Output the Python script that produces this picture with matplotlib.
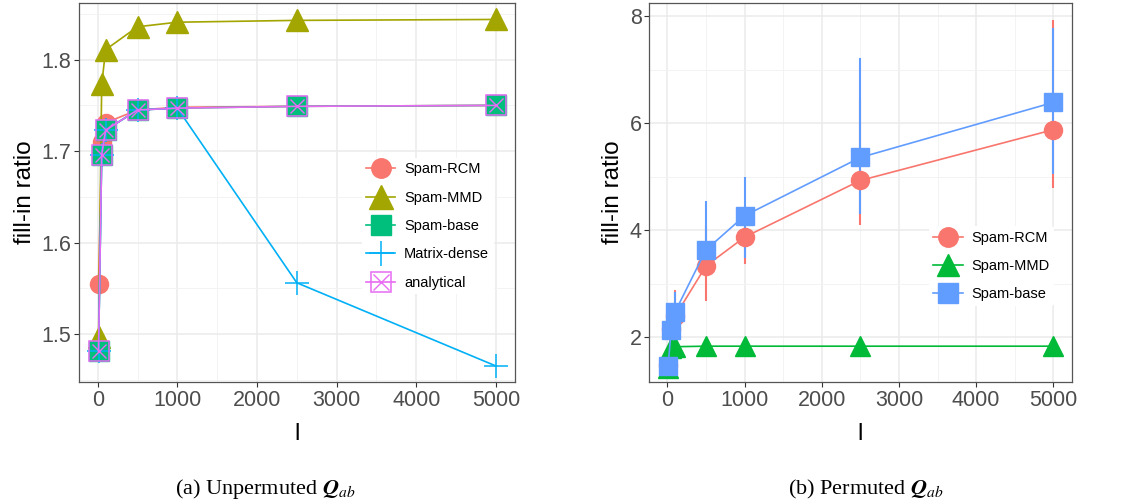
import numpy as np
import matplotlib.pyplot as plt
from matplotlib.lines import Line2D
from matplotlib.ticker import MultipleLocator

plt.rcParams['font.family'] = ['Liberation Sans', 'DejaVu Sans']
plt.rcParams['mathtext.fontset'] = 'stix'

l_vals = [10, 50, 100, 500, 1000, 2500, 5000]

# (a) unpermuted Q_ab
a_rcm = [1.555, 1.710, 1.731, 1.745, 1.748, 1.749, 1.750]
a_mmd = [1.497, 1.773, 1.811, 1.836, 1.841, 1.843, 1.844]
a_base = [1.481, 1.696, 1.723, 1.745, 1.747, 1.749, 1.750]
a_dense = [1.481, 1.696, 1.723, 1.745, 1.747, 1.556, 1.465]
a_analytical = [1.481, 1.696, 1.723, 1.745, 1.747, 1.749, 1.750]

# (b) permuted Q_ab (mean, error bar low / high)
b_rcm = [1.48, 2.15, 2.39, 3.33, 3.87, 4.93, 5.88]
b_rcm_lo = [1.45, 2.00, 2.10, 2.67, 3.36, 4.09, 4.79]
b_rcm_hi = [1.52, 2.35, 2.89, 4.10, 4.45, 6.45, 7.93]
b_mmd = [1.42, 1.80, 1.82, 1.83, 1.83, 1.83, 1.83]
b_base = [1.46, 2.14, 2.47, 3.63, 4.27, 5.36, 6.39]
b_base_lo = [1.43, 1.95, 2.20, 3.20, 3.48, 4.30, 5.05]
b_base_hi = [1.50, 2.35, 2.85, 4.54, 5.00, 7.22, 7.78]

C_RCM, C_MMD, C_BASE, C_DENSE, C_ANA = "#F8766D", "#A3A500", "#00BF7D", "#00B0F6", "#E76BF3"
C3_RCM, C3_MMD, C3_BASE = "#F8766D", "#00BA38", "#619CFF"


def style_axes(ax, major_y, minor_y):
    ax.set_facecolor("white")
    ax.xaxis.set_major_locator(MultipleLocator(1000))
    ax.xaxis.set_minor_locator(MultipleLocator(500))
    ax.yaxis.set_major_locator(MultipleLocator(major_y))
    ax.yaxis.set_minor_locator(MultipleLocator(minor_y))
    ax.grid(True, which="major", color="#EBEBEB", linewidth=1.1, zorder=0)
    ax.grid(True, which="minor", color="#F3F3F3", linewidth=0.7, zorder=0)
    ax.set_axisbelow(True)
    ax.tick_params(which="major", length=3.5, width=0.8, color="#333333",
                   labelsize=15.5, labelcolor="#4D4D4D", pad=2)
    ax.tick_params(which="minor", length=0)
    for sp in ax.spines.values():
        sp.set_color("#555555")
        sp.set_linewidth(0.9)
    ax.set_xlabel("l", fontsize=17.5, labelpad=9)
    ax.set_ylabel("fill-in ratio", fontsize=17.5, labelpad=4)


fig = plt.figure(figsize=(11.4, 5), dpi=100)
ax1 = fig.add_axes([0.0693, 0.236, 0.3825, 0.758])
ax2 = fig.add_axes([0.5696, 0.236, 0.3705, 0.758])

# ---- (a) ----
ax1.plot(l_vals, a_rcm, "-o", color=C_RCM, lw=1.2, ms=13, zorder=3)
ax1.plot(l_vals, a_mmd, "-^", color=C_MMD, lw=1.2, ms=16, zorder=3)
ax1.plot(l_vals, a_base, "-s", color=C_BASE, lw=1.2, ms=14, zorder=4)
ax1.plot(l_vals, a_dense, "-+", color=C_DENSE, lw=1.2, ms=17, mew=1.1, zorder=5)
ax1.plot(l_vals, a_analytical, "-", color=C_ANA, lw=1.2, zorder=6)
ax1.plot(l_vals, a_analytical, "s", mfc="none", mec=C_ANA, ms=14, mew=1.1, zorder=6)
ax1.plot(l_vals, a_analytical, "x", color=C_ANA, ms=10, mew=1.0, zorder=6)
ax1.set_xlim(-235, 5240)
ax1.set_ylim(1.4475, 1.862)
style_axes(ax1, 0.1, 0.05)

h_rcm = Line2D([], [], color=C_RCM, marker="o", ms=14, lw=1.2)
h_mmd = Line2D([], [], color=C_MMD, marker="^", ms=17, lw=1.2)
h_base = Line2D([], [], color=C_BASE, marker="s", ms=15, lw=1.2)
h_dense = Line2D([], [], color=C_DENSE, marker="+", ms=18, mew=1.1, lw=1.2)
h_ana_box = Line2D([], [], color=C_ANA, marker="s", mfc="none", ms=15, mew=1.1, lw=1.2)
h_ana_x = Line2D([], [], color=C_ANA, marker="x", ms=11, lw=0)
ax1.legend([h_rcm, h_mmd, h_base, h_dense, (h_ana_box, h_ana_x)],
           ["Spam-RCM", "Spam-MMD", "Spam-base", "Matrix-dense", "analytical"],
           loc="upper left", bbox_to_anchor=(0.632, 0.61), fontsize=10.5,
           frameon=True, facecolor="white", edgecolor="none", framealpha=1,
           handlelength=2.0, labelspacing=0.98, borderpad=0.3, handletextpad=0.6)

# ---- (b) ----
ax2.vlines(l_vals, b_rcm_lo, b_rcm_hi, color=C3_RCM, lw=1.5, zorder=3)
ax2.vlines(l_vals, b_base_lo, b_base_hi, color=C3_BASE, lw=1.5, zorder=3)
ax2.plot(l_vals, b_rcm, "-o", color=C3_RCM, lw=1.2, ms=13, zorder=4)
ax2.plot(l_vals, b_mmd, "-^", color=C3_MMD, lw=1.2, ms=15, zorder=4)
ax2.plot(l_vals, b_base, "-s", color=C3_BASE, lw=1.2, ms=13, zorder=5)
ax2.set_xlim(-233, 5238)
ax2.set_ylim(1.16, 8.25)
style_axes(ax2, 2, 1)

g_rcm = Line2D([], [], color=C3_RCM, marker="o", ms=14, lw=1.2)
g_mmd = Line2D([], [], color=C3_MMD, marker="^", ms=16, lw=1.2)
g_base = Line2D([], [], color=C3_BASE, marker="s", ms=14, lw=1.2)
ax2.legend([g_rcm, g_mmd, g_base], ["Spam-RCM", "Spam-MMD", "Spam-base"],
           loc="upper left", bbox_to_anchor=(0.645, 0.43), fontsize=10.5,
           frameon=True, facecolor="white", edgecolor="none", framealpha=1,
           handlelength=2.0, labelspacing=0.98, borderpad=0.3, handletextpad=0.6)

fig.text(0.2325, 0.012, r"(a) Unpermuted $\boldsymbol{Q}_{ab}$", ha="center",
         fontsize=16, family="Liberation Serif")
fig.text(0.760, 0.012, r"(b) Permuted $\boldsymbol{Q}_{ab}$", ha="center",
         fontsize=16, family="Liberation Serif")

fig.savefig("out.png", dpi=100, facecolor="white")
